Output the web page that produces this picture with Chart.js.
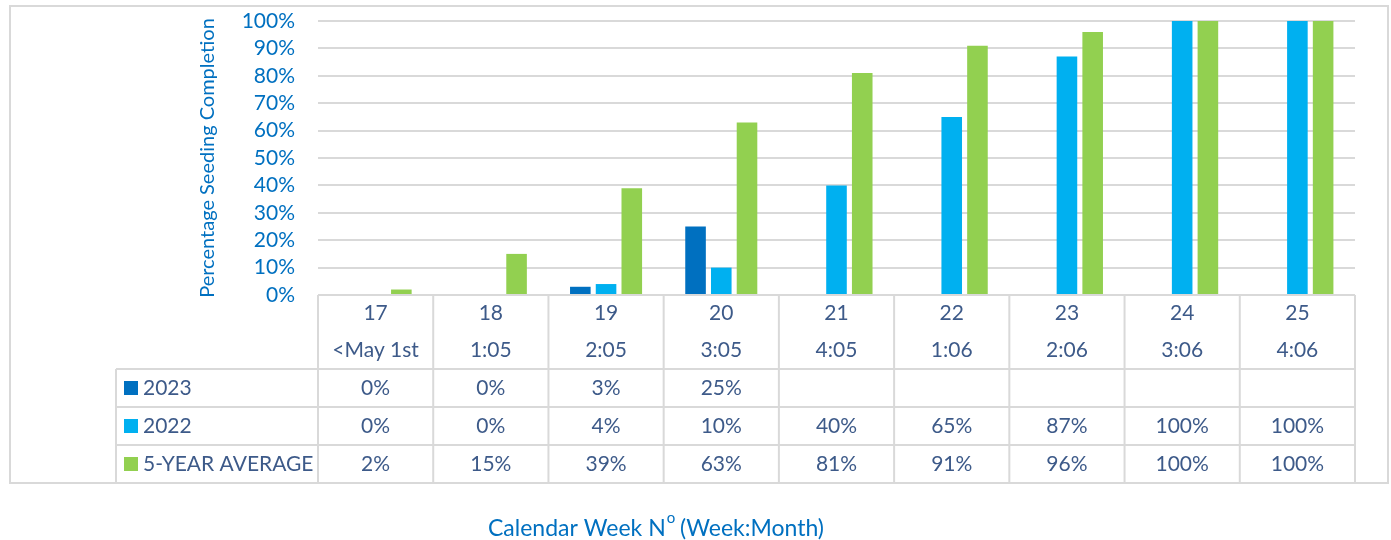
<!DOCTYPE html>
<html>
<head>
<meta charset="utf-8">
<title>Seeding Progression</title>
<script src="https://cdn.jsdelivr.net/npm/chart.js@4.4.1/dist/chart.umd.min.js"></script>
<style>
    body { margin: 0; background: #ffffff; }
    #wrap { width: 1391px; height: 540px; }
</style>
</head>
<body>
<div id="wrap"><canvas id="seedingChart" width="1391" height="540"></canvas></div>
<script>
// week numbers and week:month labels shown in the table header
var weeks = ["17", "18", "19", "20", "21", "22", "23", "24", "25"];
var weekMonth = ["<May 1st", "1:05", "2:05", "3:05", "4:05", "1:06", "2:06", "3:06", "4:06"];

// percent seeded per week
var seeded2023 = [0, 0, 3, 25, null, null, null, null, null];
var seeded2022 = [0, 0, 4, 10, 40, 65, 87, 100, 100];
var fiveYearAvg = [2, 15, 39, 63, 81, 91, 96, 100, 100];

var seriesNames = ["2023", "2022", "5-YEAR AVERAGE"];
var seriesColors = ["#0070C0", "#00B0F0", "#92D050"];

var FONT = "Lato, 'Open Sans', sans-serif";
var TABLE_TEXT = "#3D5A89";
var GRID = "#D9D9D9";

// draws the Excel-style data table, the frame and the x axis title
var dataTablePlugin = {
    id: "dataTable",
    afterDraw: function (chart) {
        var ctx = chart.ctx;
        var area = chart.chartArea;
        var xs = chart.scales.x;
        var n = weeks.length;
        var colW = (area.right - area.left) / n;
        var headTop = area.bottom;
        var rowTop = 369;
        var rowH = 38;
        var tableBottom = rowTop + rowH * 3;
        var legendLeft = 116;
        var series = [seeded2023, seeded2022, fiveYearAvg];

        ctx.save();

        // outer frame
        ctx.strokeStyle = GRID;
        ctx.lineWidth = 2;
        ctx.strokeRect(10, 6, 1378, tableBottom - 6);

        // table lines
        ctx.beginPath();
        ctx.moveTo(area.left, headTop);
        ctx.lineTo(area.right, headTop);
        for (var r = 0; r <= 3; r++) {
            ctx.moveTo(legendLeft, rowTop + r * rowH);
            ctx.lineTo(area.right, rowTop + r * rowH);
        }
        for (var c = 0; c <= n; c++) {
            var bx = area.left + c * colW;
            ctx.moveTo(bx, headTop);
            ctx.lineTo(bx, tableBottom);
        }
        ctx.moveTo(legendLeft, rowTop);
        ctx.lineTo(legendLeft, tableBottom);
        ctx.stroke();

        // header text
        ctx.fillStyle = TABLE_TEXT;
        ctx.font = "21px " + FONT;
        ctx.textAlign = "center";
        ctx.textBaseline = "middle";
        for (var i = 0; i < n; i++) {
            var cx = xs.getPixelForValue(i);
            ctx.fillText(weeks[i], cx, 313);
            ctx.fillText(weekMonth[i], cx, 350);
        }

        // series rows
        for (var s = 0; s < series.length; s++) {
            var cy = rowTop + s * rowH + rowH / 2;
            ctx.fillStyle = seriesColors[s];
            ctx.fillRect(124, cy - 7, 14, 14);
            ctx.fillStyle = TABLE_TEXT;
            ctx.textAlign = "left";
            ctx.fillText(seriesNames[s], 143, cy);
            ctx.textAlign = "center";
            for (var j = 0; j < n; j++) {
                var v = series[s][j];
                if (v === null) continue;
                ctx.fillText(v + "%", xs.getPixelForValue(j), cy);
            }
        }

        // x axis title with superscript o
        ctx.fillStyle = "#0070C0";
        ctx.textAlign = "left";
        ctx.textBaseline = "alphabetic";
        var partA = "Calendar Week N";
        var partB = " (Week:Month)";
        ctx.font = "23px " + FONT;
        var wA = ctx.measureText(partA).width;
        var wB = ctx.measureText(partB).width;
        ctx.font = "15px " + FONT;
        var wO = ctx.measureText("o").width;
        var startX = 656 - (wA + wO + wB) / 2;
        var baseY = 536;
        ctx.font = "23px " + FONT;
        ctx.fillText(partA, startX, baseY);
        ctx.font = "15px " + FONT;
        ctx.fillText("o", startX + wA + 1, baseY - 13);
        ctx.font = "23px " + FONT;
        ctx.fillText(partB, startX + wA + wO, baseY);

        ctx.restore();
    }
};

var datasets = [];
var allSeries = [seeded2023, seeded2022, fiveYearAvg];
for (var k = 0; k < allSeries.length; k++) {
    datasets.push({
        label: seriesNames[k],
        data: allSeries[k],
        backgroundColor: seriesColors[k],
        borderWidth: 0,
        categoryPercentage: 0.67,
        barPercentage: 0.8
    });
}

var chart = new Chart(document.getElementById("seedingChart"), {
    type: "bar",
    data: { labels: weeks, datasets: datasets },
    options: {
        responsive: false,
        animation: false,
        layout: { padding: { left: 196, right: 36, top: 21, bottom: 245 } },
        plugins: {
            legend: { display: false },
            tooltip: { enabled: false }
        },
        scales: {
            x: { display: false },
            y: {
                min: 0,
                max: 100,
                border: { display: false },
                grid: { color: GRID, lineWidth: 2, drawTicks: false },
                ticks: {
                    stepSize: 10,
                    autoSkip: false,
                    padding: 23,
                    color: "#0070C0",
                    font: { family: FONT, size: 21 },
                    callback: function (v) { return v + "%"; }
                },
                title: {
                    display: true,
                    text: "Percentage Seeding Completion",
                    color: "#0070C0",
                    font: { family: FONT, size: 20 },
                    padding: { top: 0, bottom: 0 }
                },
                afterFit: function (scale) {
                    scale.width = 122;
                    scale.paddingTop = 0;
                    scale.paddingBottom = 0;
                }
            }
        }
    },
    plugins: [dataTablePlugin]
});
</script>
</body>
</html>
